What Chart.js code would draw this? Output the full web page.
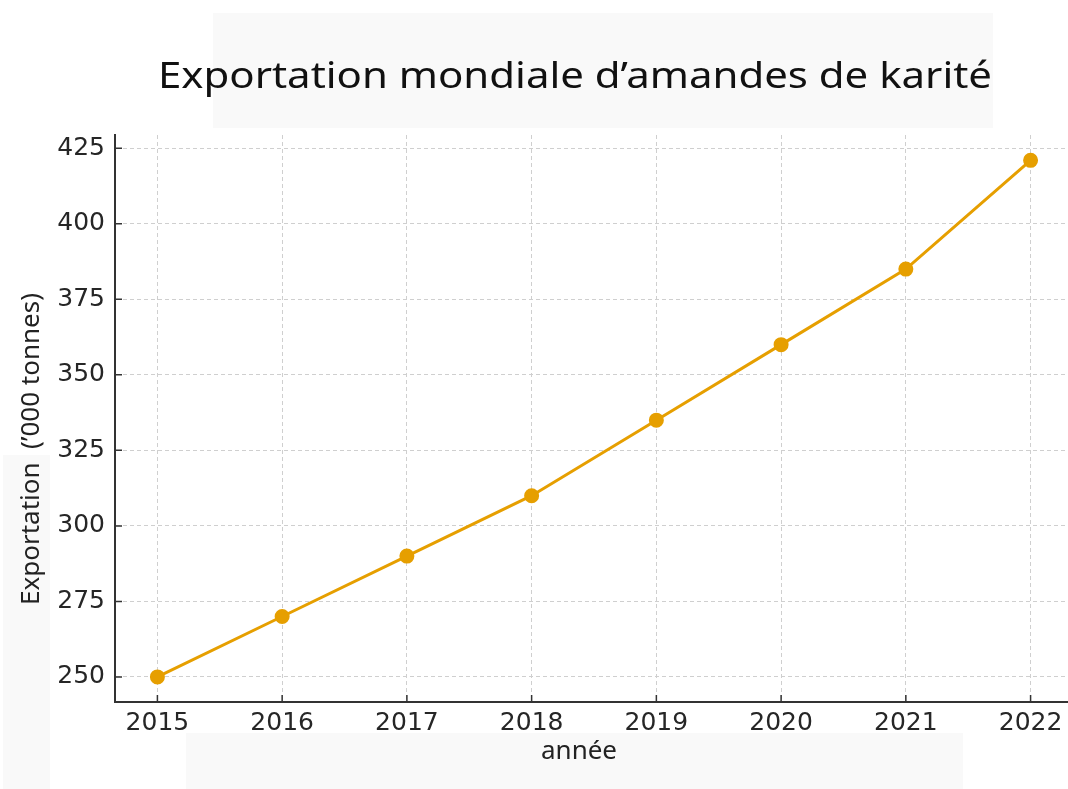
<!DOCTYPE html>
<html>
<head>
<meta charset="utf-8">
<script src="https://cdn.jsdelivr.net/npm/chart.js@4"></script>
<style>
  html, body { margin: 0; padding: 0; background: #ffffff; }
  #wrap { width: 1068px; height: 789px; position: relative; }
</style>
</head>
<body>
<div id="wrap"><canvas id="exportChart"></canvas></div>
<script>
const annees = [2015, 2016, 2017, 2018, 2019, 2020, 2021, 2022];
const exportations = [250, 270, 290, 310, 335, 360, 385, 421];
const graduationsY = [250, 275, 300, 325, 350, 375, 400, 425];

const titre = 'Exportation mondiale d\u2019amandes de karit\u00e9';
const titreY = 'Exportation  (\u2019000 tonnes)';
const titreX = 'ann\u00e9e';

// fonds gris clair derrière les textes
const fondsPlugin = {
    id: 'fonds',
    beforeDraw(chart) {
        const ctx = chart.ctx;
        ctx.save();
        ctx.fillStyle = '#f9f9f9';
        ctx.fillRect(213, 13, 780, 115);
        ctx.fillRect(3, 455, 47, 334);
        ctx.fillRect(186, 733, 777, 56);
        ctx.restore();
    }
};

// titres + petits traits de graduation vers l'intérieur
const textesPlugin = {
    id: 'textes',
    afterDraw(chart) {
        const ctx = chart.ctx;
        const area = chart.chartArea;
        const sx = chart.scales.x, sy = chart.scales.y;
        ctx.save();

        ctx.strokeStyle = '#333333';
        ctx.lineWidth = 1.5;
        ctx.beginPath();
        sy.ticks.forEach(t => {
            const y = sy.getPixelForValue(t.value);
            ctx.moveTo(area.left, y);
            ctx.lineTo(area.left + 7, y);
        });
        sx.ticks.forEach(t => {
            const x = sx.getPixelForValue(t.value);
            ctx.moveTo(x, area.bottom);
            ctx.lineTo(x, area.bottom - 7);
        });
        ctx.stroke();

        ctx.fillStyle = '#111111';
        ctx.font = '37px "Noto Sans"';
        ctx.textBaseline = 'alphabetic';
        ctx.textAlign = 'left';
        const w = ctx.measureText(titre).width;
        ctx.save();
        ctx.translate(158, 88);
        ctx.scale(834 / w, 1);
        ctx.fillText(titre, 0, 0);
        ctx.restore();

        ctx.fillStyle = '#222222';
        ctx.font = '26px "Noto Sans"';
        ctx.textAlign = 'center';
        ctx.textBaseline = 'middle';
        ctx.save();
        ctx.translate(32, 449);
        ctx.rotate(-Math.PI / 2);
        ctx.fillText(titreY, 0, 0);
        ctx.restore();

        ctx.font = '26px "Noto Sans"';
        ctx.fillText(titreX, 579, 752);
        ctx.restore();
    }
};

const ctx = document.getElementById('exportChart').getContext('2d');
new Chart(ctx, {
    type: 'line',
    data: {
        datasets: [{
            label: 'Exportation',
            data: annees.map((a, i) => ({ x: a, y: exportations[i] })),
            borderColor: '#E69F00',
            backgroundColor: '#E69F00',
            borderWidth: 3,
            pointRadius: 6,
            pointHoverRadius: 6,
            tension: 0,
            fill: false
        }]
    },
    options: {
        responsive: true,
        maintainAspectRatio: false,
        animation: false,
        layout: { autoPadding: false, padding: { top: 135, right: 0, left: 0, bottom: 0 } },
        plugins: {
            legend: { display: false },
            title: { display: false },
            tooltip: { enabled: false }
        },
        scales: {
            x: {
                type: 'linear',
                min: 2014.66,
                max: 2022.3,
                afterBuildTicks: s => { s.ticks = annees.map(v => ({ value: v })); },
                afterFit: s => { s.height = 87; s.paddingRight = 0; s.paddingLeft = 0; },
                grid: {
                    color: '#cfcfcf',
                    lineWidth: 1,
                    drawTicks: false
                },
                border: { color: '#333333', width: 2, dash: [4, 3] },
                ticks: {
                    padding: 6,
                    color: '#262626',
                    font: { family: 'DejaVu Sans', size: 25 },
                    callback: v => String(v)
                }
            },
            y: {
                min: 241.7,
                max: 429.4,
                afterBuildTicks: s => { s.ticks = graduationsY.map(v => ({ value: v })); },
                afterFit: s => { s.width = 115; s.paddingTop = 0; s.paddingBottom = 0; },
                grid: {
                    color: '#cfcfcf',
                    lineWidth: 1,
                    drawTicks: false
                },
                border: { color: '#333333', width: 2, dash: [4, 3] },
                ticks: {
                    padding: 10,
                    color: '#262626',
                    font: { family: 'DejaVu Sans', size: 25 }
                }
            }
        }
    },
    plugins: [fondsPlugin, textesPlugin]
});
</script>
</body>
</html>
